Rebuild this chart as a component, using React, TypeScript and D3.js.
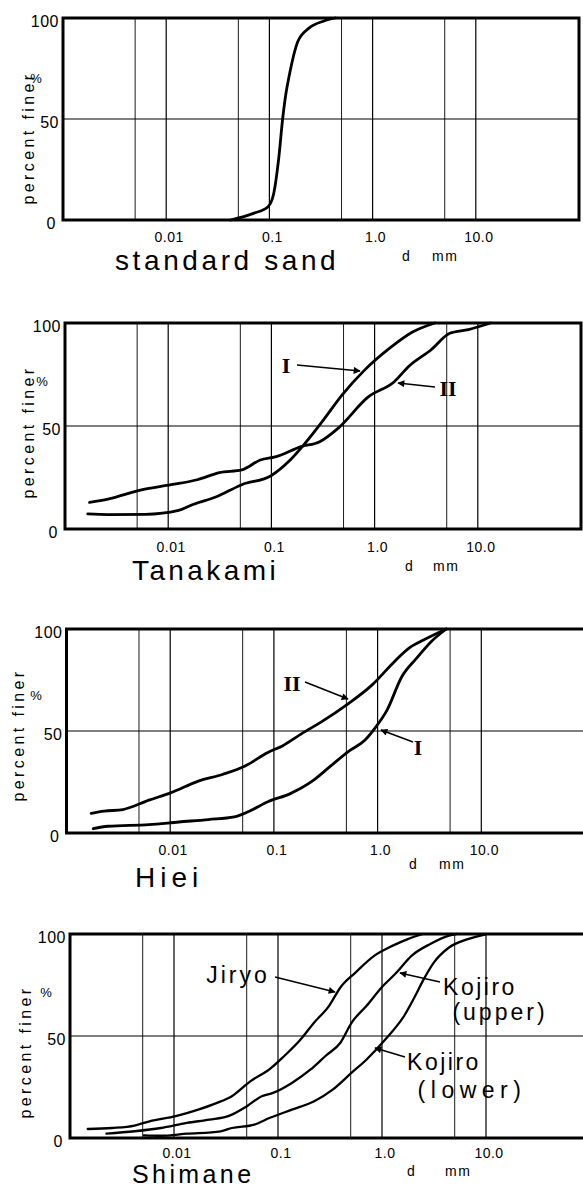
import React from 'react';
import * as d3 from 'd3';

type Pt = [number, number];

// ---------- data ----------
const gridValues = [0.005, 0.01, 0.05, 0.1, 0.5, 1, 5, 10];
const xTickValues = [0.01, 0.1, 1, 10];
const xTickLabels = ['0.01', '0.1', '1.0', '10.0'];
const yTickValues = [0, 50, 100];
const yTickLabels = ['0', '50', '100'];
const panelTitles = ['standard sand', 'Tanakami', 'Hiei', 'Shimane'];
const xDomain: [number, number] = [0.001, 100];

const standardSand: Pt[] = [
  [0.042, 0], [0.07, 3.3], [0.097, 6.6], [0.11, 13], [0.1225, 29.5], [0.135, 51],
  [0.145, 63], [0.155, 71], [0.189, 88.5], [0.242, 95], [0.337, 98.5], [0.434, 100],
];

const tanakamiI: Pt[] = [
  [0.00166, 7.3], [0.00261, 7], [0.006, 7.1], [0.0126, 9], [0.0176, 12], [0.0289, 15.5],
  [0.0516, 21.5], [0.1, 26], [0.152, 33.5], [0.211, 41.5], [0.32, 53], [0.483, 65],
  [0.795, 77], [1.42, 88], [2.33, 95.6], [3.84, 100],
];
const tanakamiII: Pt[] = [
  [0.00173, 12.9], [0.00261, 14.5], [0.0055, 19], [0.0107, 21.5], [0.0191, 23.9],
  [0.0314, 27.4], [0.0516, 28.7], [0.0781, 33.5], [0.109, 35], [0.194, 40], [0.294, 42.4],
  [0.445, 49], [0.863, 64], [1.55, 71.5], [2.15, 79], [3.53, 87], [5.35, 95], [8.1, 96.8],
  [13.3, 100],
];

const hieiI: Pt[] = [
  [0.00181, 2.1], [0.00251, 3.3], [0.00624, 4.1], [0.0121, 5.4], [0.0233, 6.6],
  [0.0416, 7.9], [0.0579, 10.7], [0.0875, 15.3], [0.144, 19.3], [0.236, 25.5],
  [0.356, 33], [0.537, 40.4], [0.748, 45.3], [0.959, 51.9], [1.23, 60.1], [1.71, 76.6],
  [2.38, 85.7], [3.3, 93.9], [4.6, 100],
];
const hieiII: Pt[] = [
  [0.00173, 9.6], [0.00231, 10.7], [0.0035, 11.5], [0.00624, 16.1], [0.0102, 19.8],
  [0.0182, 25.2], [0.0324, 28.8], [0.0533, 33], [0.0875, 39.5], [0.122, 42.8],
  [0.184, 48.6], [0.302, 55.2], [0.495, 62.6], [0.881, 72.5], [1.45, 84], [2.01, 90.6],
  [2.8, 94.7], [4.6, 100],
];

const shimaneJiryo: Pt[] = [
  [0.00148, 4.4], [0.00254, 4.9], [0.00418, 6.1], [0.00582, 8.2], [0.0104, 10.7],
  [0.0171, 13.9], [0.0259, 17.2], [0.036, 20.5], [0.0545, 27.9], [0.0826, 33.6],
  [0.115, 40.2], [0.16, 47.5], [0.223, 56.6], [0.31, 64.8], [0.398, 73.8], [0.555, 81.1],
  [0.84, 89.3], [1.27, 94.3], [1.77, 97.5], [2.47, 100],
];
const shimaneKojiroUpper: Pt[] = [
  [0.00224, 2.1], [0.00418, 3.3], [0.00746, 4.9], [0.0133, 7.4], [0.0219, 9],
  [0.0332, 10.7], [0.0502, 15.6], [0.0699, 20.5], [0.0896, 22.1], [0.136, 27],
  [0.206, 33.6], [0.286, 40.2], [0.398, 46.7], [0.511, 56.6], [0.711, 64.8],
  [0.991, 73.8], [1.38, 81.1], [1.92, 89.3], [2.91, 95.1], [4.41, 99.2], [5.19, 100],
];
const shimaneKojiroLower: Pt[] = [
  [0.00514, 1.3], [0.00746, 1.1], [0.0133, 2.1], [0.0281, 3.3], [0.036, 4.9],
  [0.0593, 6.6], [0.0826, 9.8], [0.136, 13.9], [0.223, 18], [0.338, 23.8], [0.511, 32],
  [0.711, 38.5], [1.08, 48.4], [1.63, 59.8], [2.09, 69.7], [2.47, 77], [3.16, 86.1],
  [4.41, 93.4], [6.67, 97.5], [10.1, 100],
];

const panelSeries: Pt[][][] = [
  [standardSand],
  [tanakamiI, tanakamiII],
  [hieiI, hieiII],
  [shimaneJiryo, shimaneKojiroUpper, shimaneKojiroLower],
];

// ---------- layout (positions & styles) ----------
type Label = { text: string; x: number; y: number; serif?: boolean; ls?: number };
type Arrow = [number, number, number, number];
type Layout = {
  x0: number; x1: number; top: number; bottom: number;
  titleX: number; titleY: number; titleLs: number; titleSize: number;
  yTitleX: number; yTitleY: number; pctX: number; pctY: number;
  dX: number; mmX: number; dmmY: number; tickDy: number;
  curveW: number;
  labels: Label[]; arrows: Arrow[];
};

const layouts: Layout[] = [
  {
    x0: 63, x1: 579, top: 18, bottom: 220, titleX: 115, titleY: 270, titleLs: 3.6, titleSize: 28,
    yTitleX: 28, yTitleY: 138, pctX: 36, pctY: 78, dX: 402, mmX: 432, dmmY: 261, tickDy: 22,
    curveW: 2.8, labels: [], arrows: [],
  },
  {
    x0: 65, x1: 581, top: 323, bottom: 529, titleX: 132, titleY: 580, titleLs: 3.4, titleSize: 28,
    yTitleX: 28, yTitleY: 432, pctX: 42, pctY: 381, dX: 405, mmX: 433, dmmY: 571, tickDy: 23,
    curveW: 2.8,
    labels: [
      { text: 'I', x: 286, y: 365, serif: true },
      { text: 'II', x: 448, y: 388, serif: true },
    ],
    arrows: [[297, 365, 360, 371], [435, 387, 398, 383]],
  },
  {
    x0: 66.5, x1: 585, top: 629, bottom: 833, titleX: 135, titleY: 887, titleLs: 5, titleSize: 28,
    yTitleX: 18, yTitleY: 735, pctX: 36, pctY: 695, dX: 409, mmX: 439, dmmY: 869, tickDy: 22,
    curveW: 2.8,
    labels: [
      { text: 'II', x: 292, y: 683, serif: true },
      { text: 'I', x: 418, y: 747, serif: true },
    ],
    arrows: [[305, 682, 348, 699], [413, 742, 381, 730]],
  },
  {
    x0: 70, x1: 590, top: 934, bottom: 1138, titleX: 132, titleY: 1183, titleLs: 3.4, titleSize: 25,
    yTitleX: 25, yTitleY: 1052, pctX: 46, pctY: 992, dX: 407, mmX: 445, dmmY: 1176, tickDy: 20,
    curveW: 2.3,
    labels: [
      { text: 'Jiryo', x: 238, y: 975, ls: 3 },
      { text: 'Kojiro', x: 480, y: 987, ls: 2.5 },
      { text: '(upper)', x: 500, y: 1012, ls: 3 },
      { text: 'Kojiro', x: 444, y: 1062, ls: 2.5 },
      { text: '(lower)', x: 472, y: 1090, ls: 5.5 },
    ],
    arrows: [[275, 977, 335, 992], [440, 982, 400, 973], [405, 1057, 375, 1048]],
  },
];

const SANS = '"Liberation Sans", Arial, sans-serif';
const SERIF = '"Liberation Serif", "DejaVu Serif", serif';

function Panel({ idx }: { idx: number }) {
  const L = layouts[idx];
  const x = d3.scaleLog().domain(xDomain).range([L.x0, L.x1]);
  const y = d3.scaleLinear().domain([0, 100]).range([L.bottom, L.top]);
  const line = d3
    .line<Pt>()
    .x((d) => x(d[0]))
    .y((d) => y(d[1]))
    .curve(d3.curveMonotoneX);

  return (
    <g>
      {gridValues.map((g) => (
        <line
          key={'g' + g}
          x1={x(g)}
          x2={x(g)}
          y1={L.top}
          y2={L.bottom}
          stroke="#000"
          strokeWidth={[0.01, 0.1, 1, 10].includes(g) ? 1.2 : 0.9}
        />
      ))}
      <line x1={L.x0} x2={L.x1} y1={y(50)} y2={y(50)} stroke="#000" strokeWidth={1.2} />
      <rect
        x={L.x0}
        y={L.top}
        width={L.x1 - L.x0}
        height={L.bottom - L.top}
        fill="none"
        stroke="#000"
        strokeWidth={3}
      />
      {panelSeries[idx].map((s, i) => (
        <path
          key={'s' + i}
          d={line(s) || ''}
          fill="none"
          stroke="#000"
          strokeWidth={L.curveW}
          strokeLinejoin="round"
          strokeLinecap="round"
        />
      ))}
      {yTickValues.map((v, i) => (
        <text
          key={'y' + v}
          x={L.x0 - (v === 0 ? 7 : 4)}
          y={y(v) + 3}
          textAnchor="end"
          dominantBaseline="central"
          fontFamily={SANS}
          fontSize={16}
          letterSpacing={0.5}
        >
          {yTickLabels[i]}
        </text>
      ))}
      {xTickValues.map((v, i) => (
        <text
          key={'x' + v}
          x={x(v) + 3}
          y={L.bottom + L.tickDy}
          textAnchor="middle"
          fontFamily={SANS}
          fontSize={14}
          letterSpacing={0.5}
        >
          {xTickLabels[i]}
        </text>
      ))}
      <text
        transform={`translate(${L.yTitleX},${L.yTitleY}) rotate(-90)`}
        textAnchor="middle"
        dominantBaseline="central"
        fontFamily={SANS}
        fontSize={16}
        letterSpacing={3.4}
      >
        percent finer
      </text>
      <text x={L.pctX} y={L.pctY} textAnchor="middle" dominantBaseline="central" fontFamily={SANS} fontSize={13}>
        %
      </text>
      <text x={L.dX} y={L.dmmY} fontFamily={SANS} fontSize={14}>d</text>
      <text x={L.mmX} y={L.dmmY} fontFamily={SANS} fontSize={14} letterSpacing={1.5}>mm</text>
      <text x={L.titleX} y={L.titleY} fontFamily={SANS} fontSize={L.titleSize} letterSpacing={L.titleLs}>
        {panelTitles[idx]}
      </text>
      {L.labels.map((lb, i) => (
        <text
          key={'l' + i}
          x={lb.x}
          y={lb.y}
          textAnchor="middle"
          dominantBaseline="central"
          fontFamily={lb.serif ? SERIF : SANS}
          fontWeight={lb.serif ? 'bold' : 'normal'}
          fontSize={lb.serif ? 22 : 23}
          letterSpacing={lb.ls ?? 0}
        >
          {lb.text}
        </text>
      ))}
      {L.arrows.map((a, i) => (
        <line
          key={'a' + i}
          x1={a[0]}
          y1={a[1]}
          x2={a[2]}
          y2={a[3]}
          stroke="#000"
          strokeWidth={1.5}
          markerEnd="url(#arrowhead)"
        />
      ))}
    </g>
  );
}

export default function App() {
  return (
    <svg
      width={583}
      height={1187}
      viewBox="0 0 583 1187"
      style={{ position: 'absolute', left: 0, top: 0, background: '#fff', display: 'block' }}
    >
      <defs>
        <marker
          id="arrowhead"
          viewBox="0 0 10 10"
          refX={9}
          refY={5}
          markerWidth={9}
          markerHeight={7}
          markerUnits="userSpaceOnUse"
          orient="auto"
        >
          <path d="M0,0 L10,5 L0,10 z" fill="#000" />
        </marker>
      </defs>
      <rect x={0} y={0} width={583} height={1187} fill="#fff" />
      {layouts.map((_, i) => (
        <Panel key={i} idx={i} />
      ))}
    </svg>
  );
}
